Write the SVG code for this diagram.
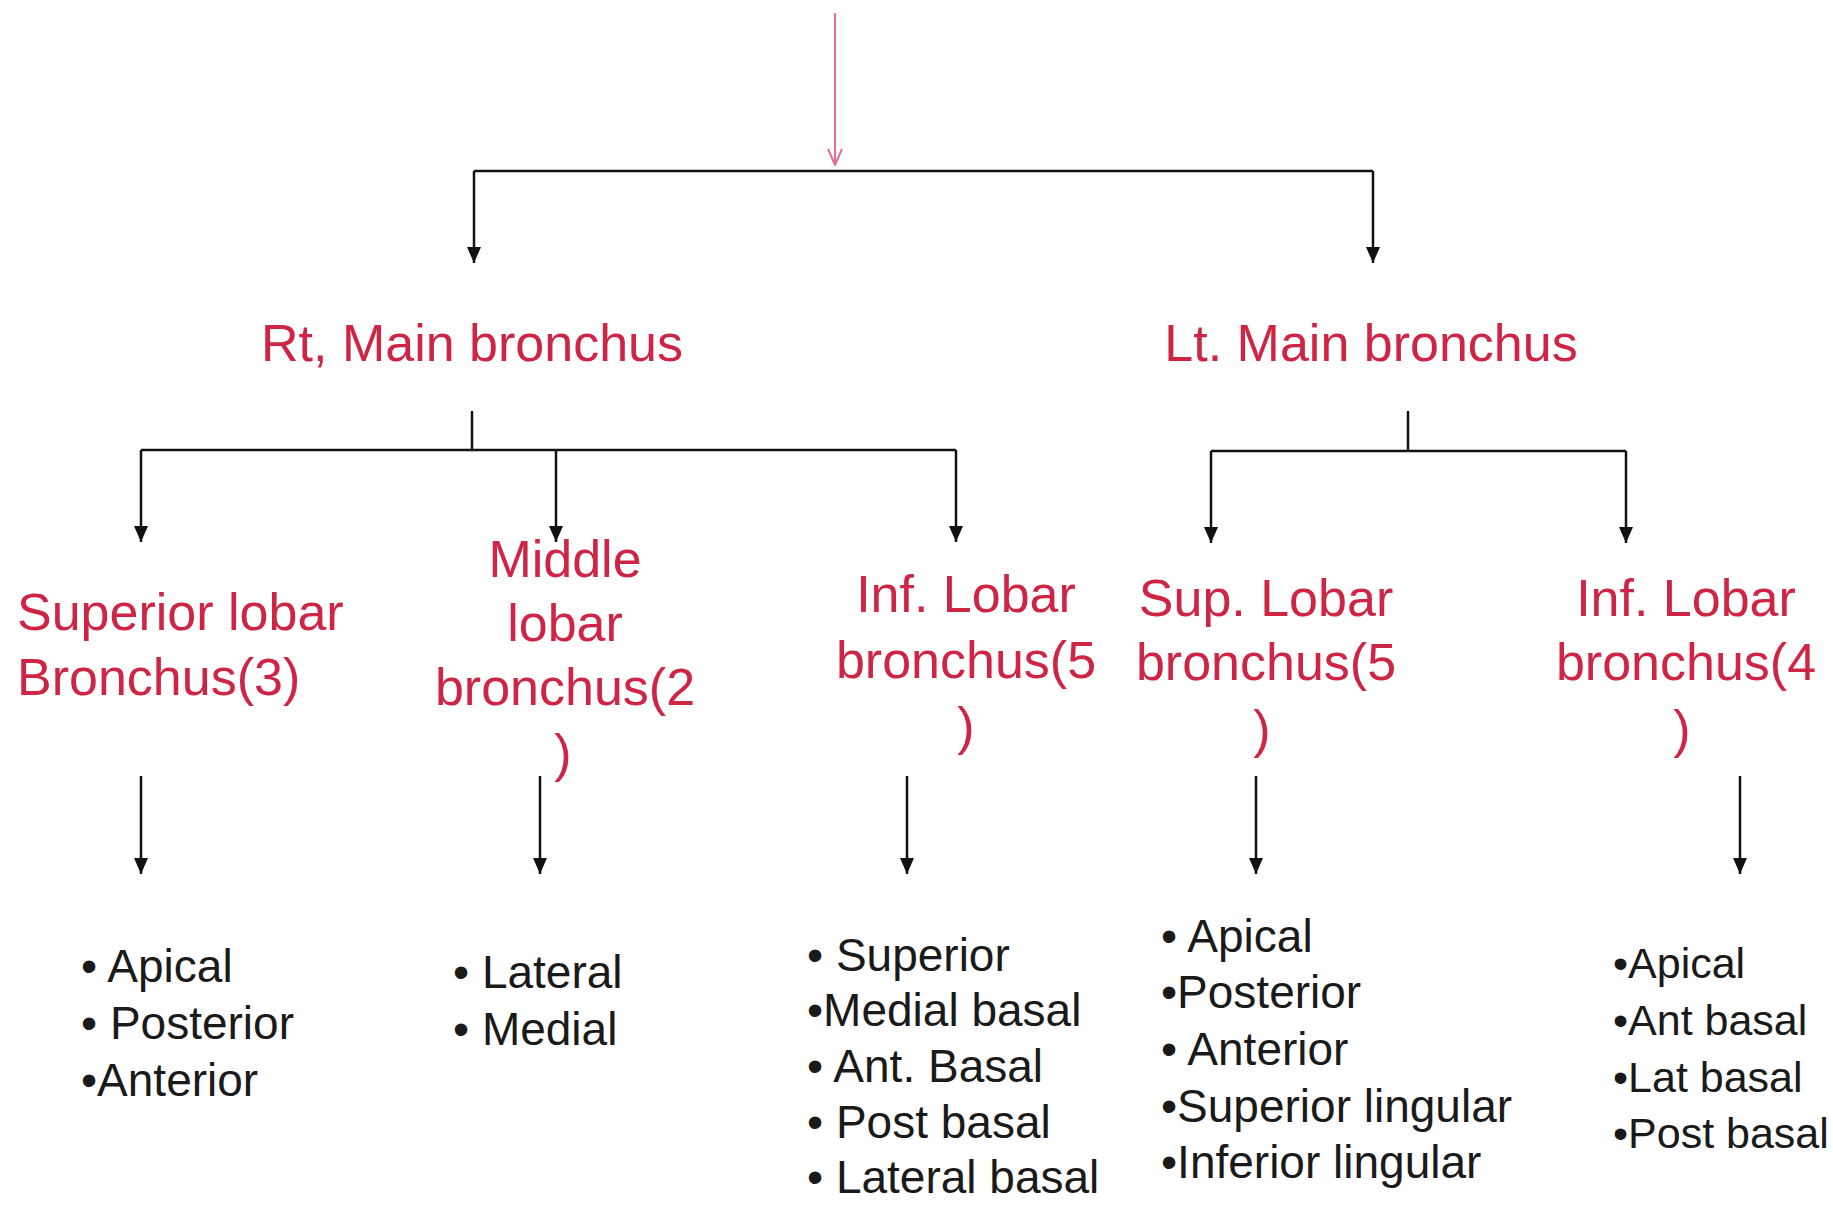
<svg xmlns="http://www.w3.org/2000/svg" width="1833" height="1205" viewBox="0 0 1833 1205">
<style>
.lbl{font-family:"Liberation Sans",Arial,sans-serif;font-size:52px;fill:#cf2545}
.c{text-anchor:middle}
.item{font-family:"Liberation Sans",Arial,sans-serif;font-size:46px;fill:#1a1a1a}
.sm{font-size:43px}
.ln{stroke:#111;stroke-width:2.5;fill:none}
.arr{stroke:#111;stroke-width:2.5;fill:none;marker-end:url(#ah)}
.pk{stroke:#e0708f;stroke-width:2;fill:none;marker-end:url(#ahp)}
</style>
<defs>
<marker id="ah" viewBox="0 0 16 16" refX="16" refY="8" markerWidth="16" markerHeight="16" markerUnits="userSpaceOnUse" orient="auto">
<path d="M0,1 L16,8 L0,15 z" fill="#111"/>
</marker>
<marker id="ahp" viewBox="0 0 18 18" refX="17" refY="9" markerWidth="18" markerHeight="18" markerUnits="userSpaceOnUse" orient="auto">
<path d="M1,2 L17,9 L1,16" fill="none" stroke="#e0708f" stroke-width="2"/>
</marker>
</defs>
<rect width="1833" height="1205" fill="#fff"/>
<g id="connectors">
<path class="pk" d="M835,13 V165"/>
<path class="ln" d="M474,171 H1373"/>
<path class="arr" d="M474,171 V263"/>
<path class="arr" d="M1373,171 V263"/>
<path class="ln" d="M472,411 V450"/>
<path class="ln" d="M141,450 H956"/>
<path class="arr" d="M141,450 V542"/>
<path class="arr" d="M556,450 V542"/>
<path class="arr" d="M956,450 V542"/>
<path class="ln" d="M1408,411 V451"/>
<path class="ln" d="M1211,451 H1626"/>
<path class="arr" d="M1211,451 V543"/>
<path class="arr" d="M1626,451 V543"/>
<path class="arr" d="M141,776 V874"/>
<path class="arr" d="M540,776 V874"/>
<path class="arr" d="M907,776 V874"/>
<path class="arr" d="M1256,776 V874"/>
<path class="arr" d="M1740,776 V874"/>
</g>
<g id="rt-main"><text class="lbl c" x="472" y="361">Rt, Main bronchus</text></g>
<g id="lt-main"><text class="lbl c" x="1371" y="361">Lt. Main bronchus</text></g>
<g id="rt-sup">
<text class="lbl" x="17" y="630">Superior lobar</text>
<text class="lbl" x="17" y="695">Bronchus(3)</text>
</g>
<g id="rt-mid">
<text class="lbl c" x="565" y="577">Middle</text>
<text class="lbl c" x="565" y="641">lobar</text>
<text class="lbl c" x="565" y="705">bronchus(2</text>
<text class="lbl c" x="563" y="771">)</text>
</g>
<g id="rt-inf">
<text class="lbl c" x="966" y="612">Inf. Lobar</text>
<text class="lbl c" x="966" y="678">bronchus(5</text>
<text class="lbl c" x="966" y="744">)</text>
</g>
<g id="lt-sup">
<text class="lbl c" x="1266" y="616">Sup. Lobar</text>
<text class="lbl c" x="1266" y="680">bronchus(5</text>
<text class="lbl c" x="1262" y="747">)</text>
</g>
<g id="lt-inf">
<text class="lbl c" x="1686" y="616">Inf. Lobar</text>
<text class="lbl c" x="1686" y="680">bronchus(4</text>
<text class="lbl c" x="1682" y="747">)</text>
</g>
<g id="rt-sup-seg">
<text class="item" x="81" y="982">• Apical</text>
<text class="item" x="81" y="1039">• Posterior</text>
<text class="item" x="81" y="1096">•Anterior</text>
</g>
<g id="rt-mid-seg">
<text class="item" x="453" y="988">• Lateral</text>
<text class="item" x="453" y="1045">• Medial</text>
</g>
<g id="rt-inf-seg">
<text class="item" x="807" y="971">• Superior</text>
<text class="item" x="807" y="1026">•Medial basal</text>
<text class="item" x="807" y="1082">• Ant. Basal</text>
<text class="item" x="807" y="1138">• Post basal</text>
<text class="item" x="807" y="1193">• Lateral basal</text>
</g>
<g id="lt-sup-seg">
<text class="item" x="1161" y="952">• Apical</text>
<text class="item" x="1161" y="1008">•Posterior</text>
<text class="item" x="1161" y="1065">• Anterior</text>
<text class="item" x="1161" y="1122">•Superior lingular</text>
<text class="item" x="1161" y="1178">•Inferior lingular</text>
</g>
<g id="lt-inf-seg">
<text class="item sm" x="1613" y="978">•Apical</text>
<text class="item sm" x="1613" y="1035">•Ant basal</text>
<text class="item sm" x="1613" y="1092">•Lat basal</text>
<text class="item sm" x="1613" y="1148">•Post basal</text>
</g>
</svg>
